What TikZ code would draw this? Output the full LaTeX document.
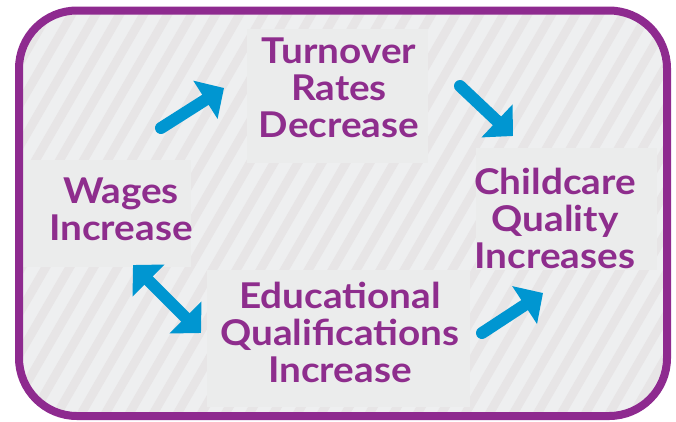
\documentclass[tikz,border=0pt]{standalone}
\usepackage{fontspec}
\setmainfont{Lato}[FakeStretch=1.09]
\usetikzlibrary{arrows.meta}
\definecolor{framec}{HTML}{8E2A8F}
\definecolor{txtc}{HTML}{8E2D8D}
\definecolor{arrc}{HTML}{0096D1}
\definecolor{bglight}{HTML}{EEEFF0}
\definecolor{bgdark}{HTML}{E7E5E6}
\definecolor{boxc}{HTML}{EBECEC}
\begin{document}
\begin{tikzpicture}[x=1pt,y=-1pt,
  boxbg/.style={fill=boxc, draw=none, inner sep=0pt},
  lab/.style={text=txtc, font=\bfseries\fontsize{35.5}{37}\selectfont, align=center, inner sep=0pt, anchor=north},
  arrowline/.style={draw=arrc, line width=12pt, line cap=round, -{Triangle[length=22pt,width=44pt]}},
  dblarrow/.style={draw=arrc, line width=12pt, {Triangle[length=22pt,width=44pt]}-{Triangle[length=22pt,width=44pt]}}]
\useasboundingbox (0,0) rectangle (676,421);
% striped background
\begin{scope}
  \clip[rounded corners=58pt] (19,10.5) rectangle (667,416);
  \fill[bglight] (0,0) rectangle (676,421);
  \foreach \x in {-264,-240,...,700}
    \fill[bgdark] (\x,421) -- ++(10,0) -- ++(243,-421) -- ++(-10,0) -- cycle;
\end{scope}
% boxes
\node[boxbg, minimum width=181pt, minimum height=134pt] (tbox) at (337.5,96) {};
\node[boxbg, minimum width=171pt, minimum height=107pt] (wbox) at (105.5,213.5) {};
\node[boxbg, minimum width=263pt, minimum height=137pt] (ebox) at (338.5,338.5) {};
\node[boxbg, minimum width=181pt, minimum height=122pt] (cbox) at (566.5,209) {};
% labels
\node[lab] (tturn) at (339,38) {Turnover\\Rates\\Decrease};
\node[lab] (twage) at (121,178) {Wages\\Increase};
\node[lab] (tedu) at (340,282) {Educational\\Qualifications\\Increase};
\node[lab] (tchild) at (555,168) {Childcare\\Quality\\Increases};
% arrow end points
\coordinate (a1s) at (161,128); \coordinate (a1e) at (224,88);
\coordinate (a2s) at (460,86);  \coordinate (a2e) at (513,136);
\coordinate (a3s) at (133,265); \coordinate (a3e) at (201,333);
\coordinate (a4s) at (482,333); \coordinate (a4e) at (543,293);
\draw[arrowline] (a1s) -- (a1e);
\draw[arrowline] (a2s) -- (a2e);
\draw[dblarrow] (a3s) -- (a3e);
\draw[arrowline] (a4s) -- (a4e);
% frame
\draw[framec, line width=8pt, rounded corners=58pt] (19,10.5) rectangle (667,416);
\end{tikzpicture}
\end{document}
